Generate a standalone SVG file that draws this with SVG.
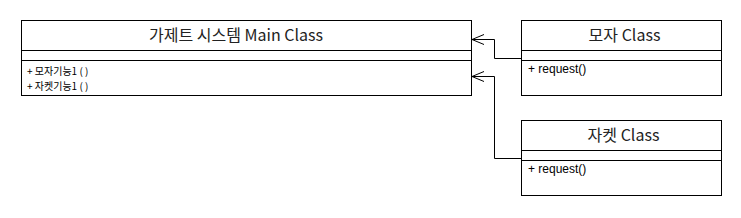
<svg xmlns="http://www.w3.org/2000/svg" width="741" height="218" viewBox="0 0 741 218">
<style>
.box{fill:#fff;stroke:#000;stroke-width:1}
.div{stroke:#000;stroke-width:1}
.title{font-family:"Noto Sans CJK KR","Noto Sans",sans-serif;font-size:16px;fill:#222;text-anchor:middle}
.m{font-family:"Noto Sans CJK KR","Liberation Sans",sans-serif;font-size:10px;fill:#000}
.r{font-family:"Liberation Sans","Noto Sans CJK KR",sans-serif;font-size:12px;fill:#000}
.edge{fill:none;stroke:#000;stroke-width:1}
</style>
<defs>
<marker id="open" markerWidth="14" markerHeight="12" refX="13" refY="6" orient="auto" markerUnits="userSpaceOnUse">
<path d="M1,1 L13,6 L1,11" fill="none" stroke="#000" stroke-width="1"/>
</marker>
</defs>
<rect width="741" height="218" fill="#fff"/>
<g id="edges">
<path class="edge" d="M521.5,58.5 H494.5 V39.5 H472" marker-end="url(#open)"/>
<path class="edge" d="M521.5,158.5 H494.5 V76.5 H472" marker-end="url(#open)"/>
</g>
<g id="main">
<rect class="box" x="21.5" y="20.5" width="450" height="75"/>
<line class="div" x1="21.5" y1="50.5" x2="471.5" y2="50.5"/>
<line class="div" x1="21.5" y1="60.5" x2="471.5" y2="60.5"/>
<text class="title" x="236" y="41">가제트 시스템 Main Class</text>
<text class="m" x="27" y="75">+ 모자기능1 ( )</text>
<text class="m" x="27" y="90">+ 자켓기능1 ( )</text>
</g>
<g id="mozza">
<rect class="box" x="521.5" y="20.5" width="200" height="75"/>
<line class="div" x1="521.5" y1="50.5" x2="721.5" y2="50.5"/>
<line class="div" x1="521.5" y1="60.5" x2="721.5" y2="60.5"/>
<text class="title" x="624.5" y="41">모자 Class</text>
<text class="r" x="528" y="73">+ request()</text>
</g>
<g id="jacket">
<rect class="box" x="521.5" y="120.5" width="200" height="75"/>
<line class="div" x1="521.5" y1="150.5" x2="721.5" y2="150.5"/>
<line class="div" x1="521.5" y1="160.5" x2="721.5" y2="160.5"/>
<text class="title" x="623.5" y="141">자켓 Class</text>
<text class="r" x="528" y="173">+ request()</text>
</g>
</svg>
